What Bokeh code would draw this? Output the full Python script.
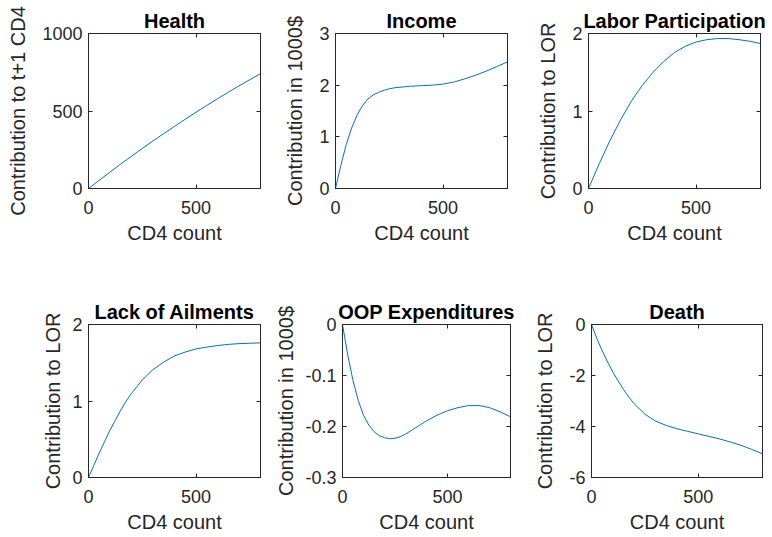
from bokeh.plotting import figure
from bokeh.layouts import column, row
from bokeh.models import Range1d, FixedTicker, LinearAxis
from bokeh.embed import file_html
from bokeh.resources import INLINE

# ---- data ---------------------------------------------------------------
cd4_health = [0, 50, 100, 150, 200, 250, 300, 350, 400, 450, 500, 550, 600, 650, 700, 750, 800]
health = [0, 53, 106, 158, 208, 258, 307, 354, 401, 447, 492, 536, 579, 621, 662, 702, 741]

cd4_income = [0, 25, 50, 75, 100, 125, 150, 175, 200, 225, 250, 275, 300, 350, 400, 450, 500,
              550, 600, 650, 700, 750, 800]
income = [0, 0.45, 0.85, 1.17, 1.42, 1.60, 1.73, 1.81, 1.86, 1.90, 1.93, 1.95, 1.96, 1.98, 1.99,
          2.00, 2.02, 2.06, 2.12, 2.19, 2.27, 2.36, 2.45]

cd4_labor = [0, 50, 100, 150, 200, 250, 300, 350, 400, 450, 500, 550, 600, 650, 700, 750, 800]
labor = [0, 0.32, 0.62, 0.89, 1.13, 1.33, 1.50, 1.64, 1.755, 1.835, 1.89, 1.92, 1.935, 1.935,
         1.92, 1.90, 1.87]

cd4_ailments = [0, 25, 50, 75, 100, 125, 150, 175, 200, 250, 300, 350, 400, 450, 500, 550, 600,
                650, 700, 750, 800]
ailments = [0, 0.16, 0.32, 0.47, 0.62, 0.75, 0.88, 1.00, 1.10, 1.275, 1.41, 1.51, 1.59, 1.64,
            1.68, 1.705, 1.725, 1.74, 1.75, 1.755, 1.76]

cd4_oop = [0, 25, 50, 75, 100, 125, 150, 175, 200, 225, 250, 275, 300, 350, 400, 450, 500, 550,
           600, 650, 700, 750, 800]
oop = [0, -0.060, -0.110, -0.149, -0.178, -0.197, -0.210, -0.218, -0.222, -0.224, -0.223, -0.220,
       -0.215, -0.202, -0.189, -0.178, -0.169, -0.163, -0.159, -0.159, -0.163, -0.171, -0.181]

cd4_death = [0, 25, 50, 75, 100, 125, 150, 175, 200, 250, 300, 350, 400, 450, 500, 550, 600, 650,
             700, 750, 800]
death = [0, -0.55, -1.03, -1.47, -1.87, -2.22, -2.55, -2.85, -3.11, -3.52, -3.79, -3.96, -4.09,
         -4.19, -4.29, -4.39, -4.49, -4.61, -4.74, -4.90, -5.07]

x_ticks = [0, 500]
x_tick_labels = ["0", "500"]

health_ticks = [0, 500, 1000]
health_tick_labels = ["0", "500", "1000"]
income_ticks = [0, 1, 2, 3]
income_tick_labels = ["0", "1", "2", "3"]
lor_ticks = [0, 1, 2]
lor_tick_labels = ["0", "1", "2"]
oop_ticks = [-0.3, -0.2, -0.1, 0]
oop_tick_labels = ["-0.3", "-0.2", "-0.1", "0"]
death_ticks = [-6, -4, -2, 0]
death_tick_labels = ["-6", "-4", "-2", "0"]

# ---- styling ------------------------------------------------------------
FONT = "Liberation Sans"
AXIS_COLOR = "#262626"
LINE_COLOR = "#0072BD"


def box_axis(ticks):
    """Unlabelled axis that puts inward ticks on the top/right edge of the box."""
    ax = LinearAxis(ticker=FixedTicker(ticks=ticks))
    ax.major_label_overrides = {t: "" for t in ticks}
    ax.major_label_text_font_size = "1px"
    ax.major_label_standoff = 0
    ax.major_tick_in = 4
    ax.major_tick_out = 0
    ax.minor_tick_line_color = None
    ax.axis_line_color = AXIS_COLOR
    ax.major_tick_line_color = AXIS_COLOR
    return ax


def panel(title, xs, ys, ylabel, yrange, yticks, ylabels, width, height, left, right, top, bottom,
          ylabel_standoff=10):
    p = figure(width=width, height=height,
               min_border_left=left, min_border_right=right,
               min_border_top=top, min_border_bottom=bottom,
               x_range=Range1d(0, 800), y_range=Range1d(*yrange),
               output_backend="svg", toolbar_location=None, tools="")
    p.line(xs, ys, line_color=LINE_COLOR, line_width=1)

    p.xgrid.visible = False
    p.ygrid.visible = False
    p.outline_line_color = AXIS_COLOR
    p.outline_line_alpha = 1.0
    p.background_fill_color = "white"
    p.border_fill_color = "white"

    p.title.text = title
    p.title.align = "center"
    p.title.text_font = FONT
    p.title.text_font_size = "20px"
    p.title.text_font_style = "bold"
    p.title.text_color = "black"
    p.title.standoff = 4

    xa = p.xaxis[0]
    xa.ticker = FixedTicker(ticks=x_ticks)
    xa.major_label_overrides = dict(zip(x_ticks, x_tick_labels))
    xa.axis_label = "CD4 count"
    xa.axis_label_standoff = 5
    xa.major_label_standoff = 12

    ya = p.yaxis[0]
    ya.ticker = FixedTicker(ticks=yticks)
    ya.major_label_overrides = dict(zip(yticks, ylabels))
    ya.axis_label = ylabel
    ya.axis_label_standoff = ylabel_standoff
    ya.major_label_standoff = 6

    for ax in (xa, ya):
        ax.axis_label_text_font = FONT
        ax.axis_label_text_font_size = "20px"
        ax.axis_label_text_font_style = "normal"
        ax.axis_label_text_color = AXIS_COLOR
        ax.major_label_text_font = FONT
        ax.major_label_text_font_size = "18px"
        ax.major_label_text_color = AXIS_COLOR
        ax.major_tick_in = 4
        ax.major_tick_out = 0
        ax.minor_tick_line_color = None
        ax.axis_line_color = AXIS_COLOR
        ax.major_tick_line_color = AXIS_COLOR

    p.add_layout(box_axis(x_ticks), "above")
    p.add_layout(box_axis(yticks), "right")
    return p


top_row = row(
    panel("Health", cd4_health, health, "Contribution to t+1 CD4", (0, 1000),
          health_ticks, health_tick_labels, 280, 280, 88, 20, 33, 92),
    panel("Income", cd4_income, income, "Contribution in 1000$", (0, 3),
          income_ticks, income_tick_labels, 247, 280, 55, 20, 33, 92),
    panel("Labor Participation", cd4_labor, labor, "Contribution to LOR", (0, 2),
          lor_ticks, lor_tick_labels, 245, 280, 61, 12, 33, 92),
)

bottom_row = row(
    panel("Lack of Ailments", cd4_ailments, ailments, "Contribution to LOR", (0, 2),
          lor_ticks, lor_tick_labels, 272, 257, 88, 12, 44, 60, ylabel_standoff=5),
    panel("OOP Expenditures", cd4_oop, oop, "Contribution in 1000$", (-0.3, 0),
          oop_ticks, oop_tick_labels, 258, 257, 70, 20, 44, 60, ylabel_standoff=5),
    panel("Death", cd4_death, death, "Contribution to LOR", (-6, 0),
          death_ticks, death_tick_labels, 242, 257, 61, 10, 44, 60),
)

layout = column(top_row, bottom_row)

with open("out.html", "w") as f:
    f.write(file_html(layout, INLINE))
